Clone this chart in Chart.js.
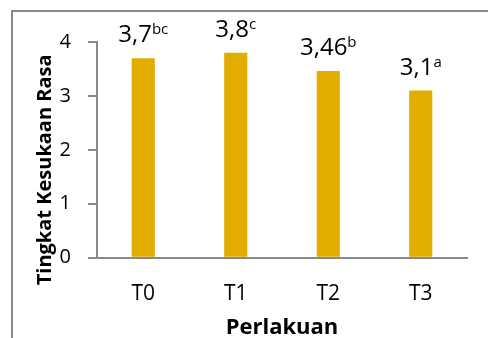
<!DOCTYPE html>
<html>
<head>
<meta charset="utf-8">
<script src="https://cdn.jsdelivr.net/npm/chart.js@4.4.1/dist/chart.umd.min.js"></script>
<style>
  html, body { margin: 0; padding: 0; background: #fff; overflow: hidden; }
  canvas { display: block; }
</style>
</head>
<body>
<canvas id="c" width="488" height="338"></canvas>
<script>
const categories = ['T0', 'T1', 'T2', 'T3'];
const values = [3.7, 3.8, 3.46, 3.1];
const valueLabels = ['3,7', '3,8', '3,46', '3,1'];
const superscripts = ['bc', 'c', 'b', 'a'];
const yTicks = [0, 1, 2, 3, 4];
const xTitle = 'Perlakuan';
const yTitle = 'Tingkat Kesukaan Rasa';

const FONT = '"Open Sans", "Liberation Sans", sans-serif';
const GRAY = '#898989';
const BAR = '#E2AC00';

const framePlugin = {
  id: 'frame',
  beforeDraw(chart) {
    const ctx = chart.ctx;
    ctx.save();
    ctx.strokeStyle = GRAY;
    ctx.lineWidth = 2;
    ctx.beginPath();
    ctx.moveTo(12, chart.height + 5);
    ctx.lineTo(12, 11);
    ctx.lineTo(chart.width + 5, 11);
    ctx.stroke();
    ctx.restore();
  }
};

// y-axis title, placed a little below the axis centre as in the reference
const yTitlePlugin = {
  id: 'yTitle',
  afterDraw(chart) {
    const ctx = chart.ctx;
    const y = chart.scales.y;
    ctx.save();
    ctx.translate(45, (y.top + y.bottom) / 2 + 20);
    ctx.rotate(-Math.PI / 2);
    ctx.fillStyle = '#000';
    ctx.font = 'bold 20px ' + FONT;
    ctx.textAlign = 'center';
    ctx.textBaseline = 'middle';
    ctx.fillText(yTitle, 0, 0);
    ctx.restore();
  }
};

const labelPlugin = {
  id: 'valueLabels',
  afterDatasetsDraw(chart) {
    const ctx = chart.ctx;
    const meta = chart.getDatasetMeta(0);
    ctx.save();
    ctx.fillStyle = '#000';
    ctx.textBaseline = 'alphabetic';
    ctx.textAlign = 'left';
    meta.data.forEach((bar, i) => {
      const mainFont = '24px ' + FONT;
      const supFont = '15px ' + FONT;
      ctx.font = mainFont;
      const wMain = ctx.measureText(valueLabels[i]).width;
      ctx.font = supFont;
      const wSup = ctx.measureText(superscripts[i]).width;
      const x0 = bar.x - (wMain + wSup) / 2;
      const y = bar.y - 16;
      ctx.font = mainFont;
      ctx.fillText(valueLabels[i], x0, y);
      ctx.font = supFont;
      ctx.fillText(superscripts[i], x0 + wMain, y - 8);
    });
    ctx.restore();
  }
};

new Chart(document.getElementById('c'), {
  type: 'bar',
  data: {
    labels: categories,
    datasets: [{
      data: values,
      backgroundColor: BAR,
      borderWidth: 0,
      barPercentage: 0.25,
      categoryPercentage: 1
    }]
  },
  options: {
    responsive: false,
    animation: false,
    devicePixelRatio: 1,
    layout: { padding: { left: 0, top: 42, right: 21, bottom: 0 } },
    plugins: { legend: { display: false }, tooltip: { enabled: false } },
    scales: {
      x: {
        grid: { display: false, drawTicks: false },
        border: { display: true, color: GRAY, width: 2 },
        ticks: { color: '#000', font: { family: FONT, size: 21 }, padding: 24 },
        title: {
          display: true, text: xTitle, color: '#000',
          font: { family: FONT, size: 22, weight: 'bold', lineHeight: 0.9 },
          padding: { top: 0, bottom: 0 }
        },
        afterFit(scale) { scale.height = 80.3; }
      },
      y: {
        min: 0, max: 4,
        afterBuildTicks(scale) { scale.ticks = yTicks.map(v => ({ value: v })); },
        grid: { display: true, drawOnChartArea: false, drawTicks: true, tickLength: 9, color: GRAY, lineWidth: 2 },
        border: { display: true, color: GRAY, width: 2 },
        ticks: { color: '#000', font: { family: FONT, size: 20 }, padding: 17 },
        title: { display: false },
        afterFit(scale) { scale.width = 97; }
      }
    }
  },
  plugins: [framePlugin, yTitlePlugin, labelPlugin]
});
</script>
</body>
</html>
